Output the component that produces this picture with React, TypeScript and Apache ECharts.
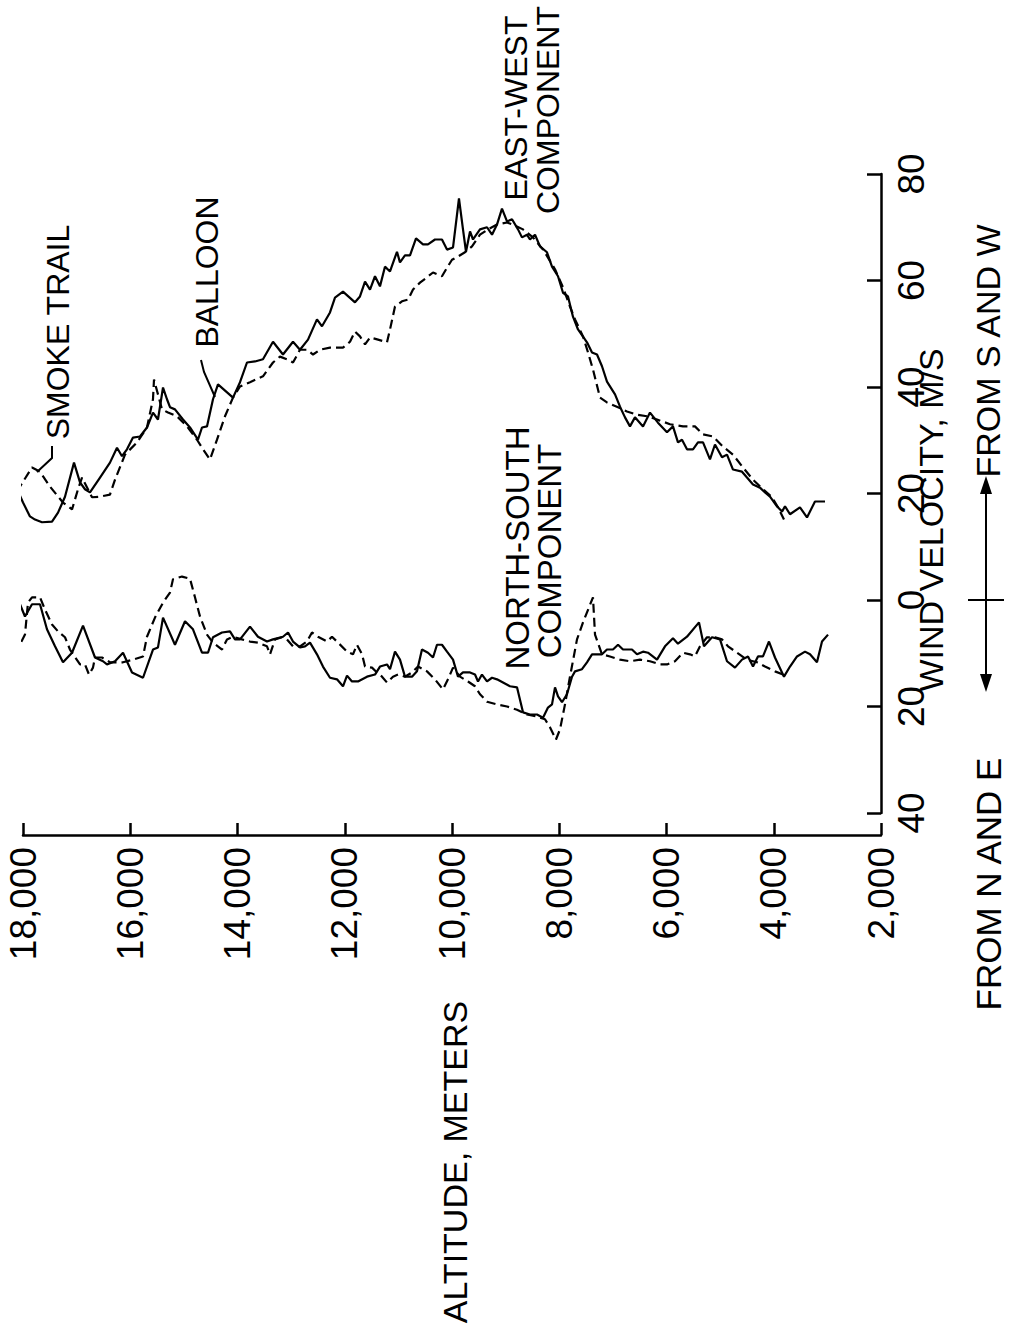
import React, { useEffect, useRef } from "react";
import * as echarts from "echarts";

// Altitude (m), wind velocity (m/s): + from S and W, - from N and E
const ewBalloon: [number, number][] = [
  [18093,20.4],[18000,18.3],[17870,15.7],[17776,15.1],[17646,14.6],[17459,14.7],[17347,16.4],[17217,19.4],[17049,25.8],[16937,22.1],[16844,20.8],[16751,20.2],[16564,23.0],[16378,25.8],[16247,28.6],[16154,27.0],[16061,28.3],[15949,30.5],[15818,30.7],[15688,32.4],[15576,35.2],[15483,33.9],[15389,39.9],[15315,37.7],[15259,36.2],[15166,35.8],[15016,33.9],[14886,32.4],[14737,30.1],[14662,32.4],[14569,32.6],[14457,37.7],[14364,40.5],[14084,38.0],[13953,40.9],[13823,44.6],[13674,44.8],[13525,45.2],[13338,48.5],[13152,46.1],[12965,48.5],[12835,47.0],[12685,48.9],[12518,52.7],[12424,51.4],[12275,54.0],[12182,56.8],[12033,57.9],[11809,55.9],[11716,57.0],[11622,59.8],[11529,58.3],[11436,60.8],[11343,58.9],[11250,62.6],[11156,61.7],[11026,65.4],[10970,63.4],[10877,64.7],[10783,64.7],[10671,67.9],[10541,66.8],[10448,66.8],[10317,67.7],[10187,67.7],[10093,65.8],[9981,66.2],[9870,75.4],[9795,69.6],[9739,65.4],[9664,69.2],[9608,67.7],[9478,69.6],[9347,70.0],[9254,68.6],[9161,70.5],[9068,73.5],[8974,71.1],[8881,71.5],[8769,69.6],[8695,68.1],[8602,68.6],[8546,67.7],[8452,68.6],[8359,66.4],[8229,65.3],[8135,62.6],[8023,60.8],[7930,57.7],[7837,57.0],[7744,53.2],[7650,50.8],[7483,48.4],[7389,46.5],[7296,46.1],[7203,43.9],[7110,41.0],[6960,38.6],[6867,36.3],[6774,34.3],[6681,32.6],[6588,34.3],[6438,32.6],[6308,35.2],[6159,33.3],[5991,31.5],[5879,32.6],[5786,29.6],[5711,30.1],[5618,28.3],[5506,28.3],[5413,29.6],[5319,29.6],[5189,26.4],[5096,29.2],[4965,26.8],[4872,27.3],[4760,24.5],[4592,24.1],[4499,23.0],[4387,21.7],[4257,21.1],[4163,20.2],[4070,19.4],[3940,17.6],[3846,16.6],[3790,17.6],[3697,16.1],[3511,17.4],[3380,15.5],[3231,18.5],[3044,18.5]
];

const ewSmoke: [number, number][] = [
  [18112,20.4],[17832,24.9],[17683,24.1],[17497,21.3],[17254,18.3],[17086,17.0],[16974,20.8],[16900,23.0],[16713,19.3],[16564,19.4],[16378,19.8],[16284,22.6],[16098,27.3],[15874,29.6],[15688,32.4],[15576,37.7],[15557,41.4],[15408,35.8],[15296,35.2],[15128,34.5],[14942,32.6],[14755,30.1],[14643,28.3],[14513,26.4],[14382,30.1],[14233,34.5],[14084,38.0],[13953,40.1],[13767,40.9],[13525,42.0],[13338,44.6],[13208,45.7],[13077,45.2],[12965,44.6],[12835,47.0],[12704,47.0],[12592,46.1],[12462,47.0],[12275,47.4],[12033,47.4],[11902,48.5],[11809,50.4],[11716,49.5],[11622,48.0],[11529,49.3],[11380,48.9],[11212,48.4],[11156,50.8],[11063,55.1],[10933,56.1],[10821,56.4],[10727,58.3],[10597,59.6],[10466,60.6],[10354,61.5],[10187,60.8],[10093,62.4],[10000,63.9],[9888,64.5],[9758,65.3],[9627,66.4],[9478,68.6],[9329,69.6],[9161,70.5],[8974,70.9],[8863,70.5],[8676,69.6],[8490,68.1],[8303,65.8],[8210,64.3],[8079,62.1],[7930,58.7],[7800,55.1],[7706,52.7],[7557,49.5],[7464,46.5],[7371,43.3],[7240,38.0],[7110,37.1],[6904,36.2],[6737,35.4],[6550,34.8],[6364,34.5],[6177,33.9],[5934,33.0],[5693,32.6],[5469,32.6],[5319,31.1],[5133,30.7],[4946,28.8],[4760,27.3],[4574,24.9],[4387,22.6],[4201,20.8],[4033,19.3],[3921,17.4],[3809,15.1]
];

const nsBalloon: [number, number][] = [
  [18112,-0.5],[18056,-0.8],[17963,-3.1],[17832,-0.8],[17683,-0.8],[17553,-5.5],[17403,-8.7],[17254,-11.7],[17086,-9.9],[16881,-4.8],[16657,-10.8],[16508,-11.5],[16434,-12.1],[16284,-11.5],[16135,-9.9],[15967,-13.6],[15762,-14.6],[15576,-9.3],[15483,-8.9],[15389,-3.3],[15166,-8.4],[14979,-4.0],[14830,-5.5],[14662,-9.9],[14550,-9.9],[14457,-7.0],[14289,-6.1],[14140,-5.9],[14047,-7.4],[13953,-7.4],[13767,-5.0],[13618,-6.9],[13450,-7.8],[13338,-7.4],[13152,-6.9],[13058,-6.1],[12965,-7.8],[12835,-8.9],[12741,-8.7],[12648,-8.0],[12518,-10.2],[12406,-12.5],[12275,-14.6],[12145,-14.9],[12033,-16.2],[11958,-14.2],[11865,-15.3],[11753,-15.3],[11585,-14.4],[11436,-14.0],[11343,-12.5],[11212,-12.1],[11156,-13.0],[11063,-9.7],[10970,-11.2],[10877,-14.4],[10746,-14.4],[10653,-13.4],[10560,-9.3],[10448,-9.9],[10354,-10.8],[10280,-8.4],[10187,-8.4],[10093,-9.7],[9981,-11.2],[9888,-14.4],[9795,-13.6],[9664,-13.6],[9571,-14.0],[9515,-15.3],[9441,-14.0],[9347,-15.3],[9254,-14.6],[9161,-14.9],[9049,-15.5],[8919,-16.2],[8788,-16.4],[8676,-21.1],[8546,-21.5],[8415,-21.5],[8303,-22.1],[8210,-20.2],[8135,-19.6],[8079,-16.4],[8023,-18.1],[7949,-19.2],[7856,-17.7],[7762,-14.4],[7706,-13.4],[7576,-13.0],[7483,-11.7],[7389,-10.2],[7203,-10.2],[7110,-9.3],[6998,-9.3],[6904,-8.4],[6811,-9.3],[6644,-9.3],[6550,-10.2],[6438,-9.7],[6345,-9.9],[6177,-11.2],[6028,-8.7],[5879,-7.2],[5786,-8.2],[5618,-6.9],[5394,-4.2],[5301,-8.7],[5152,-7.0],[5002,-7.4],[4872,-11.5],[4723,-12.7],[4592,-11.2],[4480,-10.6],[4387,-12.5],[4294,-10.6],[4201,-10.6],[4089,-7.8],[3977,-10.8],[3809,-14.4],[3697,-12.5],[3566,-10.6],[3417,-9.7],[3324,-10.2],[3194,-11.7],[3100,-7.8],[2988,-6.5]
];

const nsSmoke: [number, number][] = [
  [18149,-10.2],[17963,-6.5],[17907,-0.5],[17832,0.5],[17683,0.5],[17590,-1.8],[17459,-4.6],[17347,-5.9],[17217,-7.0],[17124,-9.3],[16937,-12.1],[16844,-12.1],[16769,-14.0],[16695,-12.7],[16657,-10.8],[16527,-10.8],[16378,-11.7],[16135,-11.7],[15949,-11.2],[15762,-10.6],[15688,-6.9],[15539,-3.3],[15389,-0.5],[15259,1.4],[15203,3.9],[15035,4.4],[14886,4.0],[14793,0.5],[14699,-3.1],[14569,-6.5],[14457,-8.0],[14289,-9.3],[14196,-7.4],[14084,-6.9],[13916,-7.4],[13767,-7.8],[13618,-8.0],[13450,-8.7],[13394,-10.2],[13301,-7.4],[13170,-7.0],[13077,-7.4],[12965,-8.7],[12835,-8.7],[12704,-7.8],[12611,-6.1],[12499,-6.9],[12331,-7.8],[12238,-6.9],[12126,-8.0],[11958,-9.7],[11846,-10.2],[11772,-8.4],[11678,-10.2],[11622,-12.5],[11492,-12.7],[11399,-13.6],[11305,-14.4],[11212,-15.5],[11100,-14.4],[11007,-14.0],[10877,-14.4],[10746,-13.6],[10634,-12.5],[10466,-13.4],[10317,-14.9],[10168,-16.8],[10075,-14.9],[9981,-12.7],[9851,-14.4],[9702,-15.3],[9571,-16.2],[9478,-17.7],[9347,-19.1],[9161,-19.6],[8974,-20.0],[8788,-20.6],[8602,-21.5],[8415,-21.9],[8266,-22.4],[8173,-23.9],[8061,-26.2],[7986,-24.3],[7893,-19.6],[7800,-14.4],[7669,-7.4],[7557,-4.2],[7371,0.5],[7333,-6.5],[7203,-10.2],[7054,-10.6],[6867,-11.2],[6681,-11.5],[6494,-11.2],[6308,-11.5],[6121,-12.1],[5991,-12.1],[5842,-11.5],[5693,-9.9],[5562,-10.2],[5469,-10.6],[5375,-8.7],[5245,-7.0],[5096,-7.0],[4965,-7.4],[4853,-8.7],[4685,-9.9],[4499,-11.2],[4312,-11.7],[4163,-12.5],[3977,-13.4],[3828,-14.0]
];

const altitudeMin = 2000;
const altitudeMax = 18000;
const altitudeStep = 2000;
const velocityMin = -40;
const velocityMax = 80;
const velocityStep = 20;

const FONT = "'Liberation Sans', Arial, Helvetica, sans-serif";
const R = Math.PI / 2;

function vText(text: string, x: number, y: number, size: number, align = "center") {
  return {
    type: "text",
    x,
    y,
    rotation: R,
    silent: true,
    style: {
      text,
      fill: "#000",
      font: `${size}px ${FONT}`,
      fontSize: size,
      fontFamily: FONT,
      align,
      verticalAlign: "middle",
      textAlign: align,
      textVerticalAlign: "middle",
    },
  };
}

export default function App() {
  const ref = useRef<HTMLDivElement>(null);
  useEffect(() => {
    if (!ref.current) return;
    const chart = echarts.init(ref.current, undefined, { renderer: "svg" });
    const axisLabelStyle = { color: "#000", fontSize: 37, fontFamily: FONT };
    chart.setOption({
      animation: false,
      backgroundColor: "#fff",
      grid: { left: 23, right: 128, top: 174, bottom: 519 },
      xAxis: {
        type: "value",
        inverse: true,
        min: altitudeMin,
        max: altitudeMax,
        interval: altitudeStep,
        position: "bottom",
        offset: 22,
        axisLine: { show: true, onZero: false, lineStyle: { color: "#000", width: 2.5 } },
        axisTick: { show: true, inside: true, length: 12, lineStyle: { color: "#000", width: 2.5 } },
        axisLabel: {
          ...axisLabelStyle,
          rotate: 90,
          margin: 12,
          formatter: (v: number) => v.toLocaleString("en-US"),
        },
        splitLine: { show: false },
      },
      yAxis: {
        type: "value",
        min: velocityMin,
        max: velocityMax,
        interval: velocityStep,
        position: "right",
        axisLine: { show: true, onZero: false, lineStyle: { color: "#000", width: 2.5 } },
        axisTick: { show: true, inside: true, length: 14, lineStyle: { color: "#000", width: 2.5 } },
        axisLabel: {
          ...axisLabelStyle,
          rotate: 90,
          margin: 12,
          formatter: (v: number) => String(Math.abs(v)),
        },
        splitLine: { show: false },
      },
      series: [
        { name: "Balloon E-W", data: ewBalloon, lineStyle: { type: "solid" } },
        { name: "Smoke trail E-W", data: ewSmoke, lineStyle: { type: [9, 5] } },
        { name: "Balloon N-S", data: nsBalloon, lineStyle: { type: "solid" } },
        { name: "Smoke trail N-S", data: nsSmoke, lineStyle: { type: [9, 5] } },
      ].map((s) => ({
        type: "line",
        name: s.name,
        data: s.data,
        showSymbol: false,
        symbol: "none",
        clip: false,
        silent: true,
        lineStyle: { color: "#000", width: 2.2, type: s.lineStyle.type },
      })),
      graphic: [
        vText("ALTITUDE, METERS", 455, 1162, 34),
        vText("WIND VELOCITY, M/S", 931, 520, 34),
        vText("FROM S AND W", 988, 351, 34),
        vText("FROM N AND E", 988, 884, 35),
        vText("SMOKE TRAIL", 58, 332, 32),
        vText("BALLOON", 207, 272, 32),
        vText("EAST-WEST", 516, 108, 32),
        vText("COMPONENT", 548, 110, 32),
        vText("NORTH-SOUTH", 517, 548, 33),
        vText("COMPONENT", 549, 551, 33),
        { type: "polyline", silent: true, shape: { points: [[52, 446], [52, 458], [37, 472]] }, style: { stroke: "#000", lineWidth: 2, fill: null } },
        { type: "polyline", silent: true, shape: { points: [[201, 360], [204, 372], [215, 397]] }, style: { stroke: "#000", lineWidth: 2, fill: null } },
        { type: "line", silent: true, shape: { x1: 986, y1: 488, x2: 986, y2: 680 }, style: { stroke: "#000", lineWidth: 2 } },
        { type: "line", silent: true, shape: { x1: 968, y1: 600, x2: 1004, y2: 600 }, style: { stroke: "#000", lineWidth: 2 } },
        { type: "polygon", silent: true, shape: { points: [[986, 476], [980, 494], [992, 494]] }, style: { fill: "#000" } },
        { type: "polygon", silent: true, shape: { points: [[986, 692], [980, 674], [992, 674]] }, style: { fill: "#000" } },
      ],
    });
    return () => chart.dispose();
  }, []);
  return (
    <div
      ref={ref}
      style={{ position: "absolute", left: 0, top: 0, width: 1009, height: 1332, background: "#fff" }}
    />
  );
}
